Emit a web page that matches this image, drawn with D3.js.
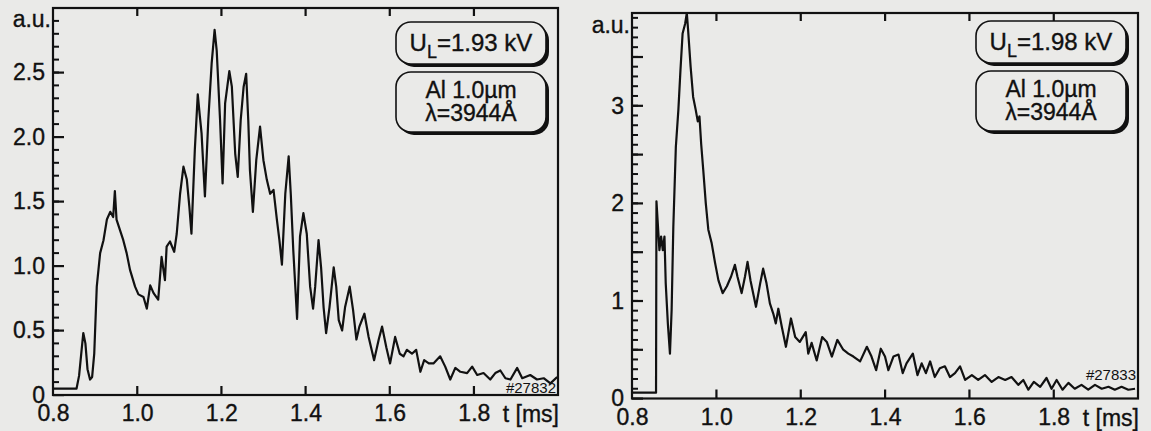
<!DOCTYPE html>
<html>
<head>
<meta charset="utf-8">
<script src="https://cdn.jsdelivr.net/npm/d3@7"></script>
<style>
body { margin: 0; background: #eaeae8; }
svg { display: block; font-family: "Liberation Sans", Arial, Helvetica, sans-serif; }
</style>
</head>
<body>
<svg id="chart" width="1151" height="431"></svg>
<script>
// left shot (#27832), t in ms, signal in a.u.
var timeLeft = [0.800, 0.856, 0.862, 0.868, 0.872, 0.877, 0.882, 0.888, 0.893, 0.898,
	0.904, 0.912, 0.920, 0.928, 0.936, 0.943, 0.947, 0.951, 0.959, 0.967,
	0.975, 0.983, 0.995, 1.003, 1.015, 1.023, 1.031, 1.039, 1.050, 1.058,
	1.066, 1.070, 1.078, 1.088, 1.094, 1.102, 1.110, 1.118, 1.124, 1.129,
	1.137, 1.144, 1.149, 1.153, 1.161, 1.169, 1.177, 1.184, 1.189, 1.197,
	1.203, 1.209, 1.219, 1.225, 1.233, 1.239, 1.246, 1.253, 1.259, 1.264,
	1.268, 1.275, 1.283, 1.292, 1.300, 1.308, 1.316, 1.324, 1.332, 1.338,
	1.344, 1.352, 1.360, 1.365, 1.371, 1.380, 1.387, 1.395, 1.403, 1.411,
	1.418, 1.423, 1.431, 1.437, 1.443, 1.449, 1.457, 1.467, 1.473, 1.479,
	1.487, 1.494, 1.505, 1.513, 1.521, 1.528, 1.540, 1.550, 1.563, 1.574,
	1.582, 1.592, 1.601, 1.613, 1.624, 1.633, 1.641, 1.653, 1.663, 1.673,
	1.682, 1.693, 1.704, 1.720, 1.732, 1.744, 1.756, 1.768, 1.784, 1.796,
	1.808, 1.823, 1.839, 1.851, 1.863, 1.875, 1.887, 1.903, 1.915, 1.934,
	1.950, 1.966, 1.982, 1.998];
var signalLeft = [0.05, 0.05, 0.15, 0.35, 0.48, 0.40, 0.20, 0.12, 0.14, 0.32,
	0.84, 1.10, 1.20, 1.36, 1.42, 1.38, 1.58, 1.36, 1.28, 1.20,
	1.10, 0.97, 0.84, 0.78, 0.76, 0.67, 0.85, 0.79, 0.74, 1.07,
	0.89, 1.15, 1.19, 1.11, 1.25, 1.56, 1.77, 1.67, 1.46, 1.25,
	1.90, 2.33, 2.16, 2.03, 1.54, 2.13, 2.57, 2.83, 2.67, 2.13,
	1.64, 2.26, 2.51, 2.39, 1.87, 1.69, 2.13, 2.39, 2.49, 2.13,
	1.74, 1.42, 1.82, 2.08, 1.82, 1.67, 1.56, 1.59, 1.36, 1.20,
	1.01, 1.56, 1.85, 1.56, 1.12, 0.59, 1.23, 1.41, 1.25, 0.84,
	0.67, 0.84, 1.20, 0.99, 0.68, 0.48, 0.68, 0.99, 0.84, 0.58,
	0.50, 0.68, 0.84, 0.66, 0.43, 0.53, 0.63, 0.45, 0.27, 0.43,
	0.53, 0.37, 0.245, 0.45, 0.32, 0.30, 0.35, 0.32, 0.35, 0.18,
	0.27, 0.245, 0.245, 0.30, 0.22, 0.12, 0.21, 0.18, 0.17, 0.22,
	0.155, 0.17, 0.12, 0.17, 0.19, 0.13, 0.12, 0.21, 0.13, 0.155,
	0.12, 0.13, 0.09, 0.14];

// right shot (#27833)
var timeRight = [0.800, 0.857, 0.858, 0.865, 0.869, 0.873, 0.877, 0.880, 0.885, 0.890,
	0.894, 0.898, 0.904, 0.910, 0.915, 0.920, 0.926, 0.930, 0.933, 0.939,
	0.945, 0.951, 0.956, 0.960, 0.964, 0.969, 0.975, 0.981, 0.989, 0.997,
	1.005, 1.015, 1.025, 1.035, 1.044, 1.050, 1.060, 1.068, 1.074, 1.081,
	1.094, 1.104, 1.111, 1.119, 1.127, 1.135, 1.141, 1.147, 1.155, 1.165,
	1.177, 1.187, 1.198, 1.212, 1.218, 1.226, 1.238, 1.251, 1.262, 1.274,
	1.287, 1.301, 1.313, 1.325, 1.341, 1.357, 1.368, 1.379, 1.390, 1.400,
	1.408, 1.420, 1.432, 1.442, 1.451, 1.466, 1.477, 1.487, 1.497, 1.507,
	1.518, 1.530, 1.542, 1.554, 1.566, 1.578, 1.590, 1.606, 1.621, 1.637,
	1.653, 1.669, 1.685, 1.700, 1.716, 1.728, 1.740, 1.753, 1.768, 1.783,
	1.795, 1.807, 1.821, 1.835, 1.850, 1.866, 1.882, 1.898, 1.914, 1.930,
	1.945, 1.961, 1.977, 1.993];
var signalRight = [0.06, 0.06, 2.02, 1.52, 1.66, 1.52, 1.66, 1.18, 0.77, 0.46,
	0.91, 1.76, 2.58, 2.96, 3.37, 3.74, 3.84, 3.95, 3.78, 3.40,
	3.09, 2.96, 2.84, 2.89, 2.61, 2.34, 2.00, 1.73, 1.59, 1.39,
	1.21, 1.08, 1.15, 1.25, 1.37, 1.25, 1.08, 1.25, 1.40, 1.21,
	0.94, 1.18, 1.33, 1.18, 0.975, 0.87, 0.77, 0.92, 0.74, 0.53,
	0.82, 0.63, 0.58, 0.68, 0.46, 0.57, 0.39, 0.63, 0.58, 0.43,
	0.60, 0.50, 0.46, 0.43, 0.38, 0.53, 0.43, 0.29, 0.51, 0.43,
	0.29, 0.43, 0.45, 0.26, 0.36, 0.46, 0.24, 0.36, 0.26, 0.38,
	0.22, 0.31, 0.33, 0.22, 0.26, 0.33, 0.19, 0.24, 0.19, 0.24,
	0.17, 0.22, 0.19, 0.22, 0.14, 0.19, 0.09, 0.17, 0.12, 0.21,
	0.10, 0.19, 0.09, 0.16, 0.10, 0.14, 0.09, 0.14, 0.10, 0.12,
	0.09, 0.12, 0.09, 0.10];

var xTickValues = [0.8, 1.0, 1.2, 1.4, 1.6, 1.8];
var yMajorLeft = [0, 0.5, 1.0, 1.5, 2.0, 2.5];
var yLabelsLeft = ["0", "0.5", "1.0", "1.5", "2.0", "2.5"];
var yMajorRight = [0, 0.5, 1, 1.5, 2, 2.5, 3, 3.5];
var yLabelsRight = ["0", "", "1", "", "2", "", "3", ""];
var voltages = ["1.93 kV", "1.98 kV"];
var shots = ["#27832", "#27833"];
var sampleLines = ["Al 1.0\u00b5m", "\u03bb=3944\u00c5"];

var ink = "#111";
var paper = "#eaeae8";

var svg = d3.select("#chart");

var panels = [
	{ x0: 53, x1: 558, y0: 8, y1: 395, yMax: 3, time: timeLeft, signal: signalLeft,
	  majors: yMajorLeft, labels: yLabelsLeft, volt: voltages[0], shot: shots[0],
	  boxTop: 22, auY: 27, shotY: 393 },
	{ x0: 632, x1: 1138, y0: 13, y1: 398.5, yMax: 3.95, time: timeRight, signal: signalRight,
	  majors: yMajorRight, labels: yLabelsRight, volt: voltages[1], shot: shots[1],
	  boxTop: 21, auY: 33, shotY: 380 }
];

function styleAxis(g) {
	g.select(".domain").remove();
	g.selectAll(".tick line").remove();
	g.selectAll(".tick text")
		.attr("fill", ink)
		.attr("stroke", ink)
		.attr("stroke-width", 0.35)
		.style("font-size", "23px")
		.style("font-family", "'Liberation Sans', Arial, sans-serif");
}

function box(g, x, y, w, h) {
	g.append("rect")
		.attr("x", x + 3).attr("y", y + 3)
		.attr("width", w).attr("height", h)
		.attr("rx", 15).attr("ry", 15)
		.attr("fill", ink);
	g.append("rect")
		.attr("x", x).attr("y", y)
		.attr("width", w).attr("height", h)
		.attr("rx", 15).attr("ry", 15)
		.attr("fill", paper)
		.attr("stroke", ink)
		.attr("stroke-width", 1.6);
}

function label(g, x, y, anchor, size, txt) {
	return g.append("text")
		.attr("x", x).attr("y", y)
		.attr("text-anchor", anchor)
		.style("font-size", size + "px")
		.attr("fill", ink)
		.attr("stroke", ink)
		.attr("stroke-width", 0.35)
		.text(txt);
}

panels.forEach(function(p, i) {
	var x = d3.scaleLinear().domain([0.8, 2.0]).range([p.x0, p.x1]);
	var y = d3.scaleLinear().domain([0, p.yMax]).range([p.y1, p.y0]);
	var g = svg.append("g");

	g.append("clipPath").attr("id", "clip" + i)
		.append("rect")
		.attr("x", p.x0).attr("y", p.y0)
		.attr("width", p.x1 - p.x0).attr("height", p.y1 - p.y0);

	g.append("g")
		.attr("transform", "translate(" + p.x0 + ",0)")
		.call(d3.axisLeft(y)
			.tickValues(p.majors)
			.tickSize(0)
			.tickPadding(8)
			.tickFormat(function(d, k) { return p.labels[k]; }))
		.call(styleAxis);

	g.append("g")
		.attr("transform", "translate(0," + p.y1 + ")")
		.call(d3.axisBottom(x)
			.tickValues(xTickValues)
			.tickSize(0)
			.tickPadding(10)
			.tickFormat(d3.format(".1f")))
		.call(styleAxis);

	var line = d3.line()
		.x(function(d) { return x(d[0]); })
		.y(function(d) { return y(d[1]); });

	g.append("path")
		.datum(d3.zip(p.time, p.signal))
		.attr("clip-path", "url(#clip" + i + ")")
		.attr("d", line)
		.attr("fill", "none")
		.attr("stroke", ink)
		.attr("stroke-width", 2.2)
		.attr("stroke-linejoin", "round");

	// frame
	g.append("rect")
		.attr("x", p.x0).attr("y", p.y0)
		.attr("width", p.x1 - p.x0).attr("height", p.y1 - p.y0)
		.attr("fill", "none")
		.attr("stroke", ink)
		.attr("stroke-width", 2.2);

	// inward tick marks: minor every 0.1, major every 0.5, time ticks top and bottom
	var minors = d3.range(1, Math.floor(p.yMax * 10) + 1).map(function(k) { return k / 10; });
	var ticksG = g.append("g").attr("fill", ink);
	ticksG.selectAll(".minor").data(minors).enter().append("rect")
		.attr("class", "minor")
		.attr("x", p.x0).attr("y", function(d) { return y(d) - 1; })
		.attr("width", 6).attr("height", 2);
	ticksG.selectAll(".major").data(p.majors).enter().append("rect")
		.attr("class", "major")
		.attr("x", p.x0).attr("y", function(d) { return y(d) - 1; })
		.attr("width", 11).attr("height", 2.2);
	ticksG.selectAll(".xbot").data(xTickValues.slice(1)).enter().append("rect")
		.attr("class", "xbot")
		.attr("x", function(d) { return x(d) - 1; }).attr("y", p.y1 - 9)
		.attr("width", 2.2).attr("height", 9);
	ticksG.selectAll(".xtop").data(xTickValues.slice(1)).enter().append("rect")
		.attr("class", "xtop")
		.attr("x", function(d) { return x(d) - 1; }).attr("y", p.y0)
		.attr("width", 2.2).attr("height", 8);

	label(g, p.x0 - 2, p.auY, "end", 23, "a.u.");
	label(g, p.x1 + 1, p.y1 + 27, "end", 23, "t [ms]");

	g.append("text")
		.attr("x", p.x1 - 2).attr("y", p.shotY)
		.attr("text-anchor", "end")
		.style("font-family", "'Liberation Sans Narrow', 'Liberation Sans', sans-serif")
		.style("font-size", "15px")
		.attr("fill", ink)
		.text(p.shot);

	// label boxes
	var bw = 150, bx = p.x1 - 12 - bw;
	var cx = bx + bw / 2;
	box(g, bx, p.boxTop, bw, 42);
	box(g, bx, p.boxTop + 50, bw, 60);

	var t1 = label(g, cx, p.boxTop + 29, "middle", 24, null);
	t1.append("tspan").text("U");
	t1.append("tspan").attr("dy", 7).style("font-size", "18px").text("L");
	t1.append("tspan").attr("dy", -7).text("=" + p.volt);

	sampleLines.forEach(function(s, k) {
		label(g, cx, p.boxTop + 76 + k * 23, "middle", 23, s);
	});
});
</script>
</body>
</html>
